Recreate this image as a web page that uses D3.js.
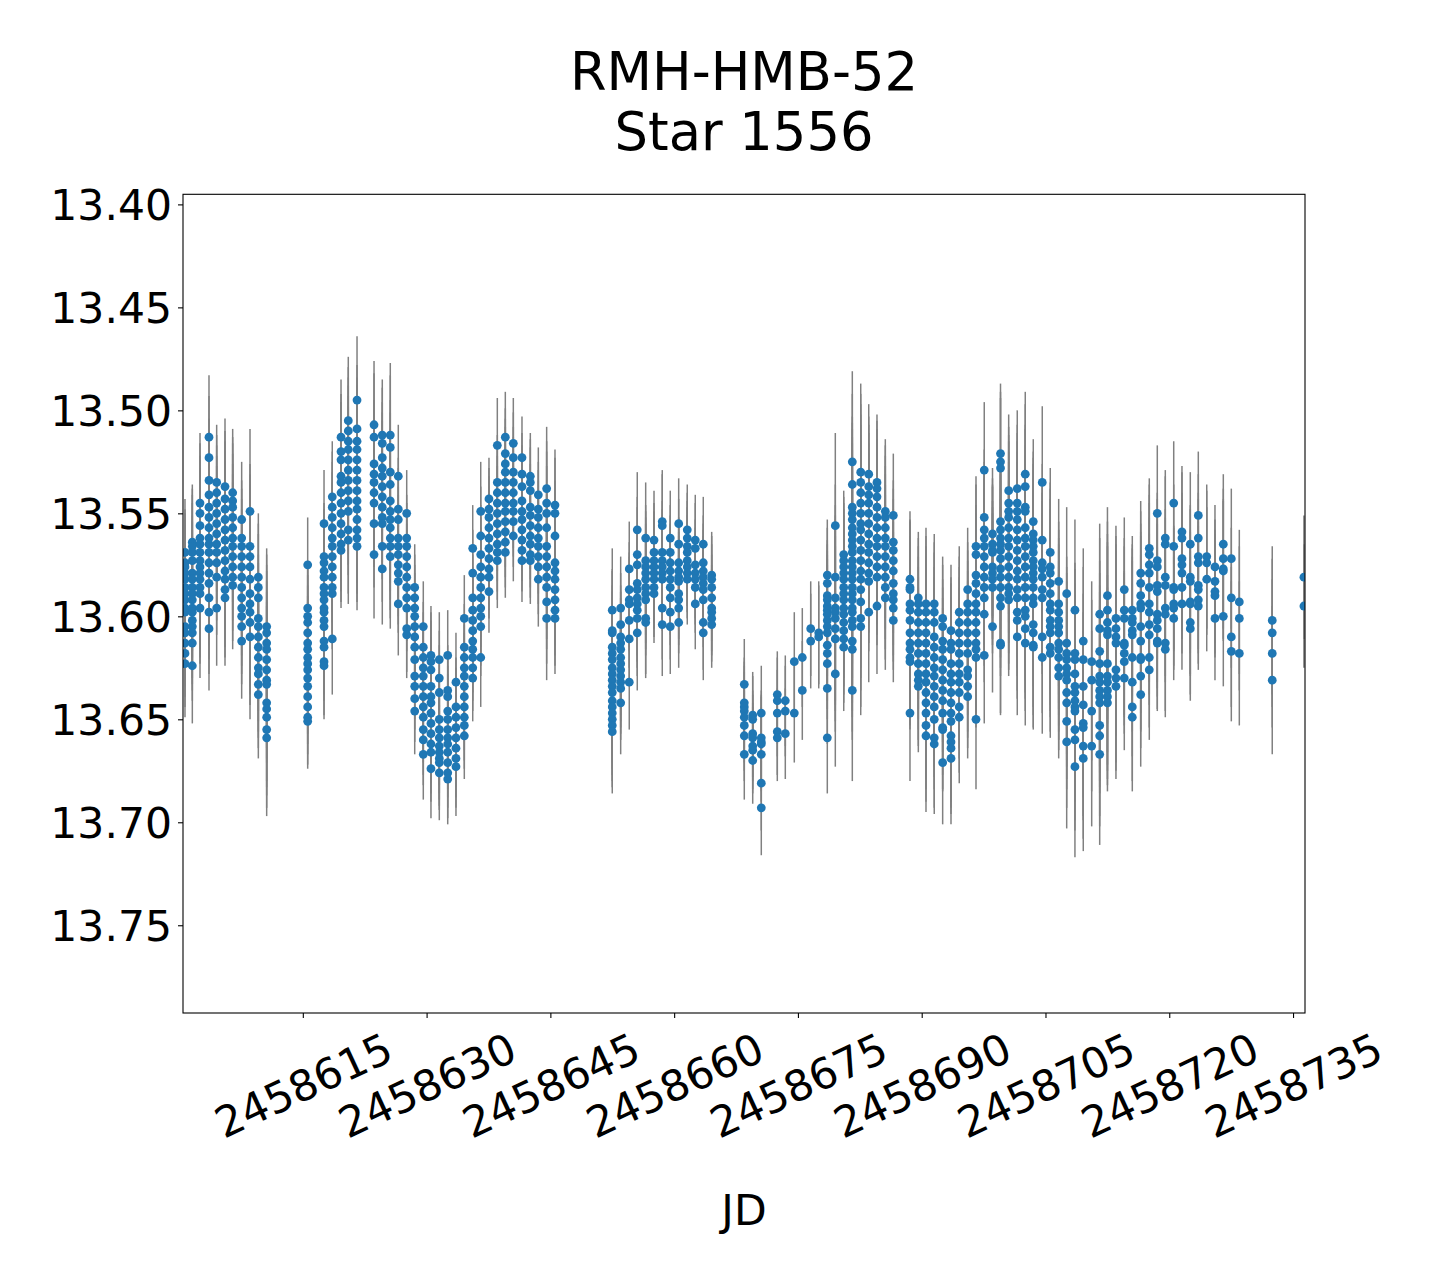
<!DOCTYPE html>
<html><head><meta charset="utf-8">
<script src="https://cdn.jsdelivr.net/npm/d3@7"></script>
<style>body{margin:0;background:#fff}svg{display:block}</style>
</head><body>
<svg id="c" width="1440" height="1280"></svg>
<script>
const titleLines = ["RMH-HMB-52", "Star 1556"];
const xLabel = "JD";
const xTicks = [2458615, 2458630, 2458645, 2458660, 2458675, 2458690, 2458705, 2458720, 2458735];
const yTicks = [13.40, 13.45, 13.50, 13.55, 13.60, 13.65, 13.70, 13.75];

// one entry per observing night: JD, typical error, and the magnitudes measured that night
const nightJD = [
 2458600.72,2458601.61,2458602.54,2458603.63,2458604.56,2458605.57,2458606.50,2458607.59,2458608.60,2458609.61,2458610.62,
 2458615.59,2458617.57,2458618.57,2458619.63,2458620.51,2458621.57,2458623.63,2458624.63,2458625.60,2458626.57,2458627.59,
 2458628.56,2458629.60,2458630.53,2458631.54,2458632.56,2458633.56,2458634.57,2458635.59,2458636.56,2458637.56,2458638.57,
 2458639.54,2458640.51,2458641.56,2458642.57,2458643.54,2458644.55,2458645.56,
 2458652.50,2458653.52,2458654.56,2458655.53,2458656.55,2458657.56,2458658.56,2458659.53,2458660.55,2458661.59,2458662.56,
 2458663.53,2458664.55,
 2458668.50,2458669.52,2458670.56,2458672.50,2458673.47,2458674.56,2458675.53,2458676.55,2458677.52,2458678.56,2458679.53,
 2458680.55,2458681.59,2458682.61,2458683.58,2458684.58,2458685.59,2458686.56,
 2458688.58,2458689.59,2458690.52,2458691.52,2458692.54,2458693.55,2458694.55,2458695.57,2458696.58,2458697.58,2458698.58,
 2458699.55,
 2458700.54,2458701.58,2458702.55,2458703.52,2458704.61,2458705.58,2458706.60,2458707.57,2458708.57,2458709.58,2458710.60,
 2458711.57,2458712.51,
 2458713.54,2458714.55,2458715.52,2458716.54,2458717.58,2458718.55,2458719.52,2458720.54,2458721.54,2458722.55,2458723.52,
 2458724.54,2458725.54,2458726.55,2458727.52,2458728.49,2458732.48,2458736.32
];
const nightErr = [
 0.026,0.028,0.034,0.030,0.028,0.033,0.031,0.028,0.040,0.031,0.038,
 0.023,0.026,0.027,0.028,0.031,0.031,0.031,0.027,0.035,0.025,0.021,
 0.021,0.022,0.024,0.023,0.022,0.024,0.021,0.021,0.024,0.020,0.023,
 0.022,0.022,0.020,0.021,0.023,0.030,0.027,
 0.030,0.025,0.023,0.028,0.027,0.024,0.025,0.023,0.022,0.022,0.022,
 0.023,0.021,
 0.022,0.021,0.023,0.021,0.022,0.024,0.024,0.023,0.025,0.027,0.045,
 0.031,0.044,0.043,0.034,0.033,0.035,0.030,
 0.033,0.032,0.037,0.034,0.030,0.032,0.032,0.030,0.034,0.033,0.032,
 0.034,
 0.037,0.038,0.040,0.040,0.037,0.041,0.040,0.042,0.044,0.045,0.039,
 0.044,0.043,
 0.045,0.035,0.036,0.035,0.034,0.033,0.033,0.030,0.032,0.035,0.031,
 0.035,0.030,0.034,0.034,0.035,0.036,0.030
];
const nightMag = [
 [13.569,13.574,13.576,13.579,13.582,13.586,13.589,13.592,13.596,13.598,13.605,13.608,13.613,13.618,13.623],
 [13.564,13.566,13.569,13.573,13.579,13.582,13.586,13.589,13.592,13.596,13.598,13.602,13.605,13.608,13.613,13.624],
 [13.545,13.550,13.556,13.562,13.565,13.569,13.573,13.576,13.579,13.582,13.586,13.589,13.596],
 [13.513,13.523,13.534,13.541,13.547,13.552,13.557,13.562,13.565,13.569,13.574,13.579,13.584,13.591,13.598,13.606],
 [13.535,13.540,13.545,13.550,13.555,13.560,13.565,13.569,13.574,13.581,13.596],
 [13.537,13.543,13.548,13.553,13.558,13.563,13.568,13.573,13.578,13.582,13.587,13.591],
 [13.540,13.544,13.547,13.552,13.557,13.562,13.566,13.571,13.576,13.581,13.585],
 [13.553,13.562,13.566,13.571,13.576,13.581,13.586,13.591,13.596,13.600,13.605,13.612],
 [13.549,13.566,13.571,13.576,13.582,13.589,13.594,13.598,13.603,13.610],
 [13.581,13.586,13.591,13.601,13.605,13.610,13.615,13.620,13.625,13.628,13.633,13.638],
 [13.605,13.608,13.613,13.616,13.621,13.626,13.631,13.633,13.642,13.645,13.649,13.655,13.659],
 [13.575,13.596,13.600,13.603,13.608,13.613,13.616,13.620,13.623,13.626,13.630,13.634,13.639,13.644,13.649,13.651],
 [13.555,13.571,13.574,13.578,13.581,13.586,13.589,13.592,13.596,13.598,13.602,13.605,13.612,13.615,13.622,13.624],
 [13.542,13.547,13.552,13.557,13.562,13.566,13.571,13.576,13.581,13.586,13.589,13.611],
 [13.513,13.520,13.524,13.532,13.535,13.540,13.545,13.550,13.555,13.560,13.565,13.568],
 [13.505,13.510,13.515,13.519,13.524,13.529,13.534,13.539,13.544,13.549,13.558,13.563],
 [13.495,13.509,13.515,13.519,13.524,13.529,13.534,13.539,13.544,13.548,13.553,13.558,13.562,13.566],
 [13.507,13.513,13.526,13.531,13.535,13.540,13.545,13.555,13.570],
 [13.512,13.516,13.523,13.528,13.532,13.537,13.542,13.547,13.552,13.555,13.566,13.577],
 [13.512,13.518,13.530,13.536,13.544,13.549,13.553,13.557,13.562,13.566,13.571],
 [13.532,13.548,13.553,13.562,13.566,13.570,13.575,13.579,13.583,13.594],
 [13.550,13.562,13.566,13.571,13.576,13.581,13.586,13.591,13.596,13.606,13.609],
 [13.586,13.591,13.596,13.600,13.605,13.610,13.615,13.621,13.629,13.634,13.640,13.646],
 [13.605,13.615,13.620,13.625,13.629,13.634,13.639,13.644,13.649,13.655,13.660,13.667],
 [13.619,13.622,13.626,13.634,13.639,13.642,13.647,13.652,13.657,13.662,13.666,13.674],
 [13.621,13.630,13.637,13.650,13.655,13.659,13.663,13.666,13.669,13.671,13.676],
 [13.619,13.636,13.639,13.646,13.650,13.655,13.659,13.662,13.666,13.671,13.676,13.679],
 [13.632,13.644,13.649,13.654,13.659,13.664,13.669,13.673],
 [13.601,13.615,13.620,13.625,13.629,13.634,13.639,13.644,13.649,13.653,13.658],
 [13.567,13.579,13.591,13.597,13.602,13.607,13.612,13.616,13.620,13.625,13.630],
 [13.549,13.561,13.570,13.576,13.581,13.586,13.591,13.596,13.600,13.605,13.620],
 [13.543,13.548,13.552,13.557,13.562,13.567,13.572,13.577,13.581,13.588],
 [13.517,13.535,13.540,13.545,13.550,13.555,13.560,13.565,13.569,13.573],
 [13.513,13.521,13.526,13.530,13.535,13.540,13.545,13.549,13.554,13.559,13.564,13.569],
 [13.516,13.523,13.530,13.535,13.540,13.545,13.549,13.554,13.561],
 [13.523,13.531,13.537,13.544,13.549,13.553,13.558,13.563,13.568,13.573],
 [13.532,13.535,13.539,13.547,13.551,13.556,13.561,13.565,13.570,13.573],
 [13.541,13.548,13.552,13.557,13.562,13.566,13.571,13.576,13.582],
 [13.538,13.545,13.550,13.557,13.566,13.571,13.576,13.581,13.586,13.593,13.601],
 [13.546,13.550,13.561,13.574,13.578,13.582,13.587,13.592,13.597,13.601],
 [13.597,13.607,13.608,13.615,13.618,13.621,13.625,13.628,13.631,13.634,13.637,13.641,13.644,13.647,13.650,13.653,13.656],
 [13.596,13.604,13.610,13.613,13.616,13.620,13.623,13.626,13.629,13.632,13.635,13.642],
 [13.577,13.587,13.592,13.594,13.602,13.611,13.632],
 [13.558,13.570,13.575,13.584,13.587,13.591,13.594,13.597,13.601,13.608],
 [13.562,13.573,13.576,13.579,13.582,13.586,13.589,13.592,13.601,13.603],
 [13.563,13.569,13.573,13.576,13.579,13.582,13.586,13.589],
 [13.554,13.556,13.569,13.573,13.576,13.579,13.582,13.596,13.604],
 [13.562,13.569,13.574,13.578,13.582,13.586,13.591,13.598,13.605],
 [13.555,13.565,13.574,13.578,13.581,13.583,13.589,13.592,13.596,13.603],
 [13.558,13.562,13.566,13.569,13.573,13.576,13.579,13.582],
 [13.563,13.567,13.575,13.579,13.582,13.586,13.594],
 [13.565,13.574,13.578,13.581,13.584,13.587,13.592,13.603,13.608],
 [13.580,13.582,13.586,13.591,13.596,13.598,13.601,13.604],
 [13.633,13.642,13.644,13.646,13.649,13.653,13.658,13.667],
 [13.648,13.650,13.657,13.659,13.663,13.665,13.670],
 [13.647,13.659,13.661,13.662,13.667,13.681,13.693],
 [13.638,13.641,13.647,13.656,13.659],
 [13.641,13.646,13.657],
 [13.622,13.647],
 [13.620,13.636],
 [13.606,13.612],
 [13.608,13.610],
 [13.580,13.584,13.590,13.592,13.595,13.597,13.599,13.602,13.605,13.608,13.614,13.618,13.623,13.635,13.659],
 [13.556,13.581,13.591,13.596,13.598,13.601,13.606,13.611,13.628],
 [13.570,13.573,13.576,13.579,13.582,13.586,13.589,13.592,13.596,13.599,13.603,13.607,13.611,13.615],
 [13.525,13.536,13.547,13.550,13.553,13.557,13.560,13.563,13.566,13.569,13.573,13.576,13.579,13.582,13.586,13.589,13.592,13.596,13.598,13.602,13.605,13.612,13.616,13.636],
 [13.530,13.535,13.540,13.545,13.550,13.555,13.558,13.563,13.568,13.573,13.578,13.582,13.587,13.593,13.601,13.605],
 [13.531,13.537,13.541,13.545,13.550,13.555,13.560,13.565,13.569,13.574,13.579,13.583,13.598],
 [13.535,13.538,13.542,13.547,13.552,13.557,13.562,13.566,13.571,13.576,13.581,13.595],
 [13.549,13.552,13.557,13.562,13.566,13.571,13.576,13.581,13.586,13.591],
 [13.551,13.564,13.568,13.573,13.578,13.584,13.589,13.592,13.596,13.602],
 [13.582,13.586,13.587,13.594,13.597,13.602,13.608,13.613,13.616,13.620,13.622,13.647],
 [13.591,13.594,13.598,13.603,13.608,13.613,13.618,13.623,13.628,13.631,13.634],
 [13.594,13.598,13.603,13.608,13.613,13.618,13.623,13.628,13.632,13.637,13.642,13.647,13.653,13.658],
 [13.594,13.598,13.603,13.610,13.615,13.620,13.625,13.629,13.634,13.639,13.644,13.650,13.659,13.662],
 [13.601,13.605,13.612,13.616,13.621,13.626,13.631,13.636,13.641,13.647,13.654,13.655,13.671],
 [13.607,13.613,13.616,13.623,13.628,13.632,13.637,13.642,13.647,13.651,13.658,13.661,13.664,13.669],
 [13.598,13.603,13.608,13.613,13.618,13.623,13.628,13.632,13.637,13.644,13.649],
 [13.587,13.594,13.598,13.603,13.608,13.613,13.618,13.626,13.629,13.634,13.639],
 [13.566,13.570,13.580,13.584,13.589,13.594,13.598,13.603,13.608,13.613,13.616,13.620,13.650],
 [13.529,13.552,13.558,13.562,13.566,13.571,13.576,13.581,13.586,13.591,13.599,13.619],
 [13.560,13.565,13.568,13.569,13.576,13.579,13.582,13.586,13.605],
 [13.521,13.525,13.528,13.554,13.558,13.562,13.565,13.568,13.572,13.577,13.581,13.586,13.591,13.595,13.613,13.614],
 [13.539,13.545,13.549,13.552,13.557,13.562,13.566,13.571,13.576,13.581,13.586,13.589,13.592],
 [13.538,13.545,13.549,13.553,13.558,13.563,13.568,13.573,13.578,13.582,13.587,13.591,13.598,13.602,13.610],
 [13.531,13.537,13.547,13.549,13.557,13.562,13.566,13.571,13.576,13.581,13.586,13.591,13.597,13.600,13.606,13.613],
 [13.554,13.560,13.563,13.566,13.569,13.573,13.576,13.579,13.582,13.586,13.591,13.594,13.604,13.608,13.614,13.615],
 [13.535,13.563,13.574,13.577,13.581,13.587,13.591,13.610,13.620],
 [13.569,13.576,13.579,13.584,13.589,13.594,13.597,13.602,13.605,13.608,13.615,13.618],
 [13.583,13.594,13.598,13.602,13.605,13.608,13.613,13.616,13.620,13.625,13.629],
 [13.589,13.613,13.618,13.621,13.625,13.628,13.631,13.637,13.642,13.651,13.661],
 [13.597,13.618,13.621,13.628,13.634,13.637,13.641,13.644,13.646,13.655,13.660,13.673],
 [13.612,13.621,13.634,13.643,13.652,13.654,13.663,13.669],
 [13.622,13.631,13.646,13.663],
 [13.599,13.606,13.617,13.623,13.629,13.632,13.636,13.639,13.642,13.653,13.658,13.667],
 [13.590,13.597,13.603,13.607,13.609,13.623,13.629,13.632,13.636,13.639,13.642],
 [13.601,13.606,13.610,13.613,13.626,13.630,13.634],
 [13.587,13.597,13.601,13.613,13.614,13.618,13.622,13.630],
 [13.597,13.601,13.603,13.607,13.609,13.620,13.632,13.644,13.649],
 [13.579,13.584,13.590,13.594,13.596,13.605,13.612,13.620,13.621,13.629,13.638],
 [13.567,13.570,13.575,13.579,13.586,13.594,13.598,13.604,13.609,13.620,13.626],
 [13.550,13.573,13.576,13.585,13.588,13.599,13.602,13.606,13.612,13.613],
 [13.562,13.565,13.581,13.585,13.596,13.599,13.613,13.616],
 [13.545,13.566,13.586,13.587,13.594,13.596,13.601],
 [13.559,13.562,13.572,13.575,13.579,13.586,13.594],
 [13.565,13.581,13.583,13.593,13.594,13.603,13.606],
 [13.551,13.562,13.571,13.574,13.585,13.587,13.592,13.595],
 [13.571,13.574,13.582],
 [13.576,13.583,13.588,13.590,13.601],
 [13.565,13.572,13.577,13.578,13.600],
 [13.572,13.591,13.610,13.617],
 [13.593,13.601,13.618],
 [13.602,13.608,13.618,13.631],
 [13.581,13.595]
];

const L = 183, R = 1305, T = 194.3, B = 1013;
const font = "DejaVu Sans, Liberation Sans, sans-serif";
const svg = d3.select("#c");

const x = d3.scaleLinear().domain([2458600.48, 2458736.45]).range([L, R]);
const y = d3.scaleLinear().domain([13.3951, 13.7926]).range([T, B]);

const points = [];
nightJD.forEach((jd, i) => {
  nightMag[i].forEach(m => points.push({jd: jd, mag: m, err: nightErr[i]}));
});

svg.append("defs").append("clipPath").attr("id", "clip")
  .append("rect").attr("x", L).attr("y", T).attr("width", R - L).attr("height", B - T);

const plot = svg.append("g").attr("clip-path", "url(#clip)");
plot.append("g").selectAll("line").data(points).join("line")
  .attr("x1", d => x(d.jd)).attr("x2", d => x(d.jd))
  .attr("y1", d => y(d.mag - d.err)).attr("y2", d => y(d.mag + d.err))
  .attr("stroke", "#808080").attr("stroke-width", 1.5);
plot.append("g").selectAll("circle").data(points).join("circle")
  .attr("cx", d => x(d.jd)).attr("cy", d => y(d.mag)).attr("r", 4.4)
  .attr("fill", "#1f77b4");

// axes
const gx = svg.append("g").attr("transform", `translate(0,${B})`)
  .call(d3.axisBottom(x).tickValues(xTicks).tickSize(5).tickFormat(d3.format("d")));
gx.select(".domain").remove();
gx.selectAll(".tick line").attr("stroke", "#000").attr("stroke-width", 1.1);
gx.selectAll(".tick text")
  .attr("x", 0).attr("dy", null).attr("y", 15.5)
  .attr("transform", "translate(0,72) rotate(-25)")
  .attr("text-anchor", "middle")
  .attr("font-family", font).attr("font-size", 42.5).attr("fill", "#000");

const gy = svg.append("g").attr("transform", `translate(${L},0)`)
  .call(d3.axisLeft(y).tickValues(yTicks).tickSize(5).tickPadding(6).tickFormat(d3.format(".2f")));
gy.select(".domain").remove();
gy.selectAll(".tick line").attr("stroke", "#000").attr("stroke-width", 1.1);
gy.selectAll(".tick text")
  .attr("dy", "0.365em")
  .attr("font-family", font).attr("font-size", 42.5).attr("fill", "#000");

svg.append("rect").attr("x", L).attr("y", T).attr("width", R - L).attr("height", B - T)
  .attr("fill", "none").attr("stroke", "#000").attr("stroke-width", 1.1);

// titles
svg.append("g").selectAll("text").data(titleLines).join("text")
  .attr("x", (L + R) / 2).attr("y", (d, i) => 90 + i * 60)
  .attr("text-anchor", "middle").attr("font-family", font).attr("font-size", 52.7)
  .attr("fill", "#000").text(d => d);

svg.append("text").attr("x", (L + R) / 2).attr("y", 1225)
  .attr("text-anchor", "middle").attr("font-family", font).attr("font-size", 42.5)
  .attr("fill", "#000").text(xLabel);
</script>
</body></html>
